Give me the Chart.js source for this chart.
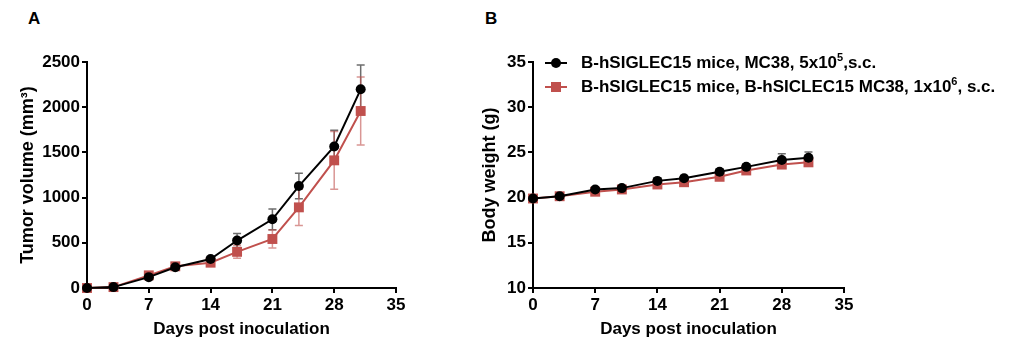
<!DOCTYPE html>
<html>
<head>
<meta charset="utf-8">
<script src="https://cdn.jsdelivr.net/npm/chart.js@4"></script>
<style>
  body { margin: 0; width: 1010px; height: 351px; background: #fff; position: relative; overflow: hidden;
         font-family: "Liberation Sans", Arial, sans-serif; }
  .box { position: absolute; top: 0; height: 351px; }
  #boxA { left: 0; width: 420px; }
  #boxB { left: 460px; width: 420px; }
  .panel { position: absolute; font-weight: bold; font-size: 17px; }
  #legend { position: absolute; left: 545px; top: 51px; font-weight: bold; font-size: 17px; }
  .row { height: 24px; line-height: 24px; white-space: nowrap; position: relative; padding-left: 36px; }
  .row .ln { position: absolute; left: 0; top: 11px; width: 22px; height: 2px; }
  .row .mk { position: absolute; left: 6px; top: 7px; width: 10px; height: 10px; }
  sup { font-size: 11px; line-height: 0; vertical-align: 7px; }
</style>
</head>
<body>
<div class="panel" style="left:28px;top:9px;">A</div>
<div class="panel" style="left:485px;top:9px;">B</div>
<div class="box" id="boxA"><canvas id="chartA"></canvas></div>
<div class="box" id="boxB"><canvas id="chartB"></canvas></div>
<div id="legend">
  <div class="row"><span class="ln" style="background:#000"></span><span class="mk" style="background:#000;border-radius:50%"></span>B-hSIGLEC15 mice, MC38, 5x10<sup>5</sup>,s.c.</div>
  <div class="row"><span class="ln" style="background:#C0504D"></span><span class="mk" style="background:#C0504D"></span>B-hSIGLEC15 mice, B-hSICLEC15 MC38, 1x10<sup>6</sup>, s.c.</div>
</div>
<script>
const days = [0, 3, 7, 10, 14, 17, 21, 24, 28, 31];
const xTicks = [0, 7, 14, 21, 28, 35];

const volMC38 = [0, 10, 120, 230, 320, 525, 760, 1128, 1565, 2198];
const volMC38Err = [0, 5, 15, 20, 25, 78, 115, 140, 180, 268];
const volHum = [0, 10, 140, 240, 280, 400, 542, 892, 1412, 1958];
const volHumErr = [0, 5, 15, 20, 25, 72, 100, 200, 320, 375];

const bwMC38 = [19.9, 20.15, 20.9, 21.05, 21.85, 22.15, 22.85, 23.4, 24.15, 24.4];
const bwMC38Err = [0.2, 0.2, 0.25, 0.25, 0.3, 0.3, 0.3, 0.3, 0.7, 0.65];
const bwHum = [19.9, 20.15, 20.65, 20.9, 21.45, 21.7, 22.3, 23.0, 23.65, 23.9];
const bwHumErr = [0.2, 0.2, 0.2, 0.25, 0.3, 0.3, 0.3, 0.3, 0.35, 0.4];

const FONT = '"Liberation Sans", Arial, sans-serif';
const RED = '#C0504D';

const errorBars = {
    id: 'errorBars',
    beforeDatasetsDraw(chart) {
        const ctx = chart.ctx;
        const y = chart.scales.y;
        chart.data.datasets.forEach((ds, i) => {
            const meta = chart.getDatasetMeta(i);
            ctx.save();
            ctx.strokeStyle = ds.errColor;
            ctx.lineWidth = 1.5;
            meta.data.forEach((pt, j) => {
                const e = ds.err[j];
                if (!e) return;
                const v = ds.data[j].y;
                const top = y.getPixelForValue(v + e);
                const bot = y.getPixelForValue(v - e);
                ctx.beginPath();
                ctx.moveTo(pt.x, top); ctx.lineTo(pt.x, bot);
                ctx.moveTo(pt.x - 4, top); ctx.lineTo(pt.x + 4, top);
                ctx.moveTo(pt.x - 4, bot); ctx.lineTo(pt.x + 4, bot);
                ctx.stroke();
            });
            ctx.restore();
        });
    }
};

const makeSeries = (vals, err, color, errColor, style) => ({
    data: days.map((d, i) => ({ x: d, y: vals[i] })),
    err: err,
    errColor: errColor,
    borderColor: color,
    backgroundColor: color,
    borderWidth: 2,
    pointStyle: style,
    pointRadius: style === 'rect' ? 7 : 5,
    pointBorderWidth: 0,
    clip: false,
    tension: 0
});

const axisCommon = (title, min, max, step, fitSize, isX) => ({
    type: 'linear',
    min: min,
    max: max,
    afterBuildTicks: isX ? (s) => { s.ticks = xTicks.map(v => ({ value: v })); } : undefined,
    ticks: { stepSize: step, color: '#000', padding: 2, maxRotation: 0,
             callback: (v) => String(v),
             font: { family: FONT, size: 17, weight: 'bold' } },
    grid: { display: true, drawOnChartArea: false, drawTicks: true, tickLength: 5,
            color: '#000', lineWidth: 2 },
    border: { display: true, color: '#000', width: 2 },
    title: { display: true, text: title, color: '#000', padding: 0,
             font: { family: FONT, size: isX ? 17 : 18, weight: 'bold' } },
    afterFit: (s) => { if (isX) s.height = fitSize; else s.width = fitSize; }
});

function buildChart(id, datasets, yTitle, yMin, yMax, yStep, pad, yWidth) {
    return new Chart(document.getElementById(id), {
        type: 'line',
        data: { datasets: datasets },
        options: {
            responsive: true,
            maintainAspectRatio: false,
            animation: false,
            layout: { padding: pad },
            plugins: { legend: { display: false }, tooltip: { enabled: false } },
            scales: {
                x: axisCommon('Days post inoculation', 0, 35, 7, 52, true),
                y: axisCommon(yTitle, yMin, yMax, yStep, yWidth, false)
            }
        },
        plugins: [errorBars]
    });
}

buildChart('chartA', [
    makeSeries(volMC38, volMC38Err, '#000', 'rgba(60,60,60,0.75)', 'circle'),
    makeSeries(volHum, volHumErr, RED, 'rgba(192,80,77,0.6)', 'rect')
], 'Tumor volume (mm³)', 0, 2500, 500, { left: 17, right: 24, top: 62, bottom: 11 }, 70);

buildChart('chartB', [
    makeSeries(bwMC38, bwMC38Err, '#000', 'rgba(60,60,60,0.75)', 'circle'),
    makeSeries(bwHum, bwHumErr, RED, 'rgba(192,80,77,0.6)', 'rect')
], 'Body weight (g)', 10, 35, 5, { left: 19, right: 36, top: 62, bottom: 11 }, 54);
</script>
</body>
</html>
